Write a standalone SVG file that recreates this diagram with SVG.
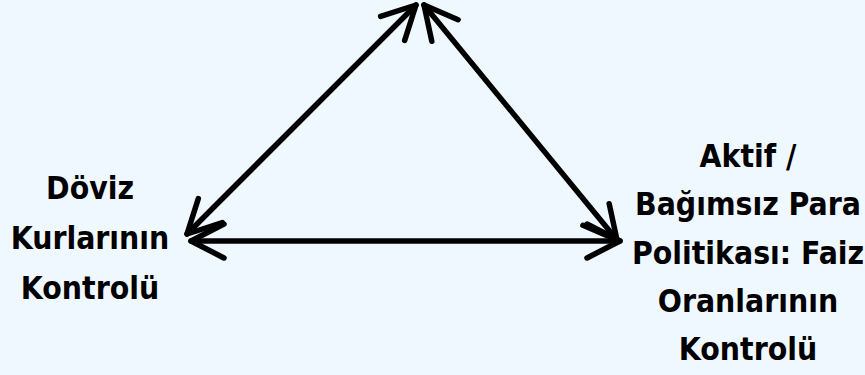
<svg xmlns="http://www.w3.org/2000/svg" width="865" height="375" viewBox="0 0 865 375">
<style>
.lbl{font-family:"DejaVu Sans Condensed","DejaVu Sans",sans-serif;font-stretch:condensed;font-weight:bold;font-size:31.6px;fill:#000;text-anchor:middle}
.edge{stroke:#000;stroke-width:5.5;fill:none;stroke-linecap:round}
</style>
<defs>
<marker id="head" markerUnits="userSpaceOnUse" orient="auto-start-reverse" refX="0" refY="0" markerWidth="80" markerHeight="80" viewBox="-40 -40 80 80" overflow="visible">
<path d="M-33,-17 L0,0 L-33,17" fill="none" stroke="#000" stroke-width="5.5" stroke-linecap="round" stroke-linejoin="round"/>
</marker>
</defs>
<rect x="0" y="0" width="865" height="375" fill="#F0F8FF"/>
<g id="connectors">
<line class="edge" x1="187" y1="234" x2="416" y2="5" marker-start="url(#head)" marker-end="url(#head)"/>
<line class="edge" x1="424" y1="5" x2="617" y2="240" marker-start="url(#head)" marker-end="url(#head)"/>
<line class="edge" x1="191" y1="241" x2="620" y2="241" marker-start="url(#head)" marker-end="url(#head)"/>
</g>
<g id="node-doviz">
<text class="lbl" x="90" y="199">Döviz</text>
<text class="lbl" x="90" y="249">Kurlarının</text>
<text class="lbl" x="90" y="299">Kontrolü</text>
</g>
<g id="node-faiz">
<text class="lbl" x="748" y="167">Aktif /</text>
<text class="lbl" x="748" y="215">Bağımsız Para</text>
<text class="lbl" x="748" y="264">Politikası: Faiz</text>
<text class="lbl" x="748" y="312">Oranlarının</text>
<text class="lbl" x="748" y="360">Kontrolü</text>
</g>
</svg>
